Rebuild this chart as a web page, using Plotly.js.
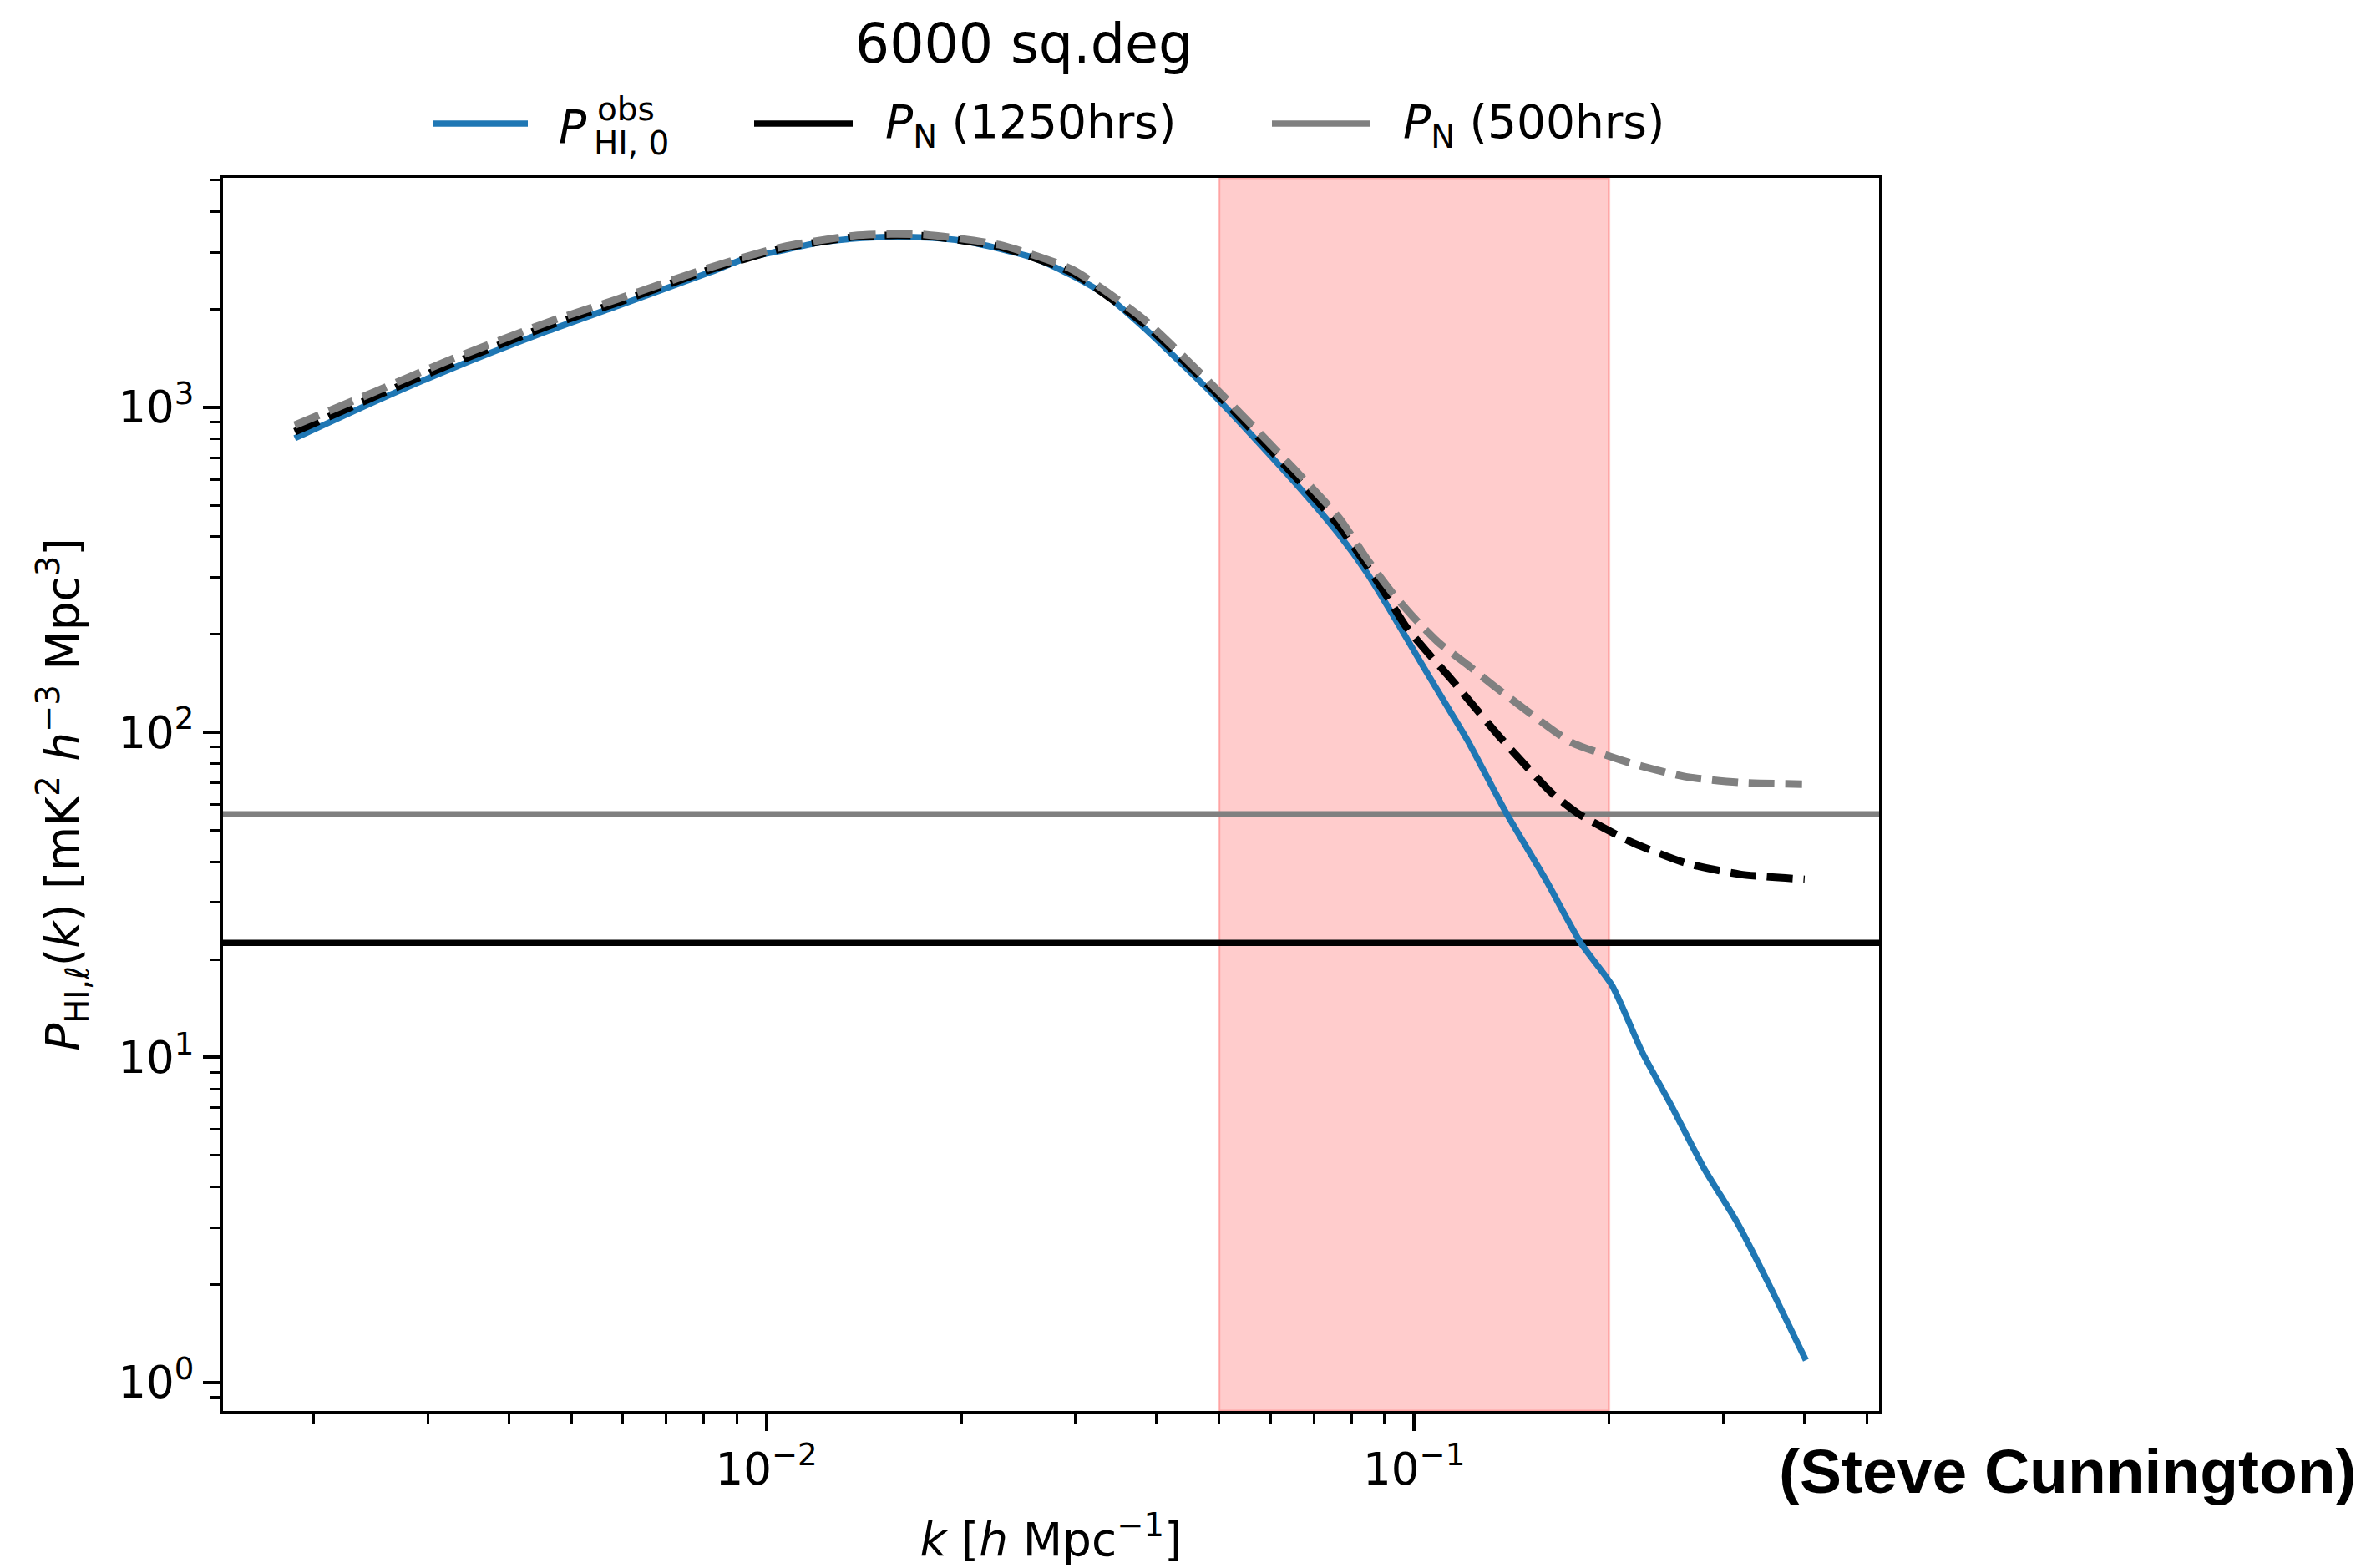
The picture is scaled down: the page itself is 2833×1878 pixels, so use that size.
<!DOCTYPE html>
<html><head><meta charset="utf-8">
<script src="https://cdn.plot.ly/plotly-3.0.1.min.js"></script>
<style>html,body{margin:0;padding:0;background:#fff;}</style>
</head><body><div id="chart" style="width:2833px;height:1878px;"></div>
<script>
// ---- data ----
const kObs = [0.00187,0.0025,0.00319,0.0046,0.00589,0.00817,0.00929,0.0106,0.0120,0.01365,0.01556,0.0177,0.0201,0.0229,0.0260,0.0296,0.0333,0.0383,0.0500,0.0653,0.0766,0.0847,0.0933,0.1030,0.1140,0.1211,0.1387,0.1596,0.1811,0.2023,0.2254,0.2489,0.2805,0.3155,0.3524,0.4027];
const pObs = [803,1047,1291,1718,2051,2600,2871,3041,3206,3304,3342,3327,3251,3076,2871,2547,2223,1754,1050,590,406,308,225,161,115,94,56.6,35.3,22.4,16.6,10.3,7.18,4.55,3.10,2.02,1.17];

const kTot1250 = [0.00187,0.0025,0.00319,0.0046,0.00589,0.00817,0.0106,0.01365,0.01556,0.0177,0.0229,0.0296,0.0383,0.0500,0.0653,0.0766,0.0847,0.0906,0.0971,0.1052,0.1140,0.1230,0.1361,0.1629,0.1786,0.2148,0.2618,0.3184,0.4009];
const pTot1250 = [841,1084,1334,1778,2099,2649,3083,3342,3381,3365,3119,2600,1807,1084,617,431,324,264,212,175,146,122,96,65.3,56.5,46.3,39.7,36.6,35.3];

const kTot500 = [0.00187,0.0025,0.00319,0.0046,0.00589,0.00817,0.0106,0.01365,0.01556,0.0177,0.0229,0.0296,0.0383,0.0500,0.0653,0.0766,0.0847,0.0925,0.1000,0.1094,0.1211,0.1334,0.1489,0.1656,0.1758,0.2148,0.2618,0.3184,0.3972];
const pTot500 = [881,1122,1380,1828,2153,2692,3119,3373,3412,3396,3162,2661,1862,1117,646,457,340,269,225,188,161,138,117,100,92.7,80.7,73.1,70.1,69.3];

const noise1250 = 22.5;
const noise500 = 56;
const kBand = [0.05, 0.2];

const legendLabels = ['obs', 'HI, 0', '<i>P</i><sub>N</sub> (1250hrs)', '<i>P</i><sub>N</sub> (500hrs)'];
const xTickVals = [0.01, 0.1];
const xTickText = ['10<sup>−2</sup>', '10<sup>−1</sup>'];
const yTickVals = [1, 10, 100, 1000];
const yTickText = ['10<sup>0</sup>', '10<sup>1</sup>', '10<sup>2</sup>', '10<sup>3</sup>'];

// ---- geometry ----
const W = 2833, H = 1878, L = 267, R = 2250, T = 213, B = 1690;
const pw = R - L, ph = B - T;
const px = x => (x - L) / pw;
const py = y => (B - y) / ph;

function minorTicks(d0, d1) {
  const out = [];
  for (let d = d0; d <= d1; d++) for (let m = 2; m <= 9; m++) out.push(m * Math.pow(10, d));
  return out;
}

const FONT = 'DejaVu Sans';
const BLUE = '#1f77b4', GRAY = '#808080';

const traces = [
  {x: kObs, y: pObs, type: 'scatter', mode: 'lines', line: {color: BLUE, width: 7.5, shape: 'spline', smoothing: 0.6}, showlegend: false},
  {x: kTot1250, y: pTot1250, type: 'scatter', mode: 'lines', line: {color: 'black', width: 9, dash: '31px,13px', shape: 'spline', smoothing: 0.6}, showlegend: false},
  {x: kTot500, y: pTot500, type: 'scatter', mode: 'lines', line: {color: GRAY, width: 9, dash: '31px,13px', shape: 'spline', smoothing: 0.6}, showlegend: false}
];

const tickBase = {ticks: 'outside', ticklen: 20, tickwidth: 4, tickcolor: 'black', showline: true, mirror: true, linecolor: 'black', linewidth: 4, showgrid: false, zeroline: false, automargin: false, tickfont: {family: FONT, size: 53, color: 'black'}};

const layout = {
  width: W, height: H,
  margin: {l: L, r: W - R, t: T, b: H - B, pad: 0},
  paper_bgcolor: 'white', plot_bgcolor: 'white',
  showlegend: false,
  title: {text: '6000 sq.deg', font: {family: FONT, size: 65, color: 'black'}, xref: 'paper', x: px(1226), xanchor: 'center', yref: 'container', y: 1 - 52 / H, yanchor: 'middle'},
  xaxis: Object.assign({}, tickBase, {
    type: 'log', range: [-2.839, -0.282],
    tickmode: 'array', tickvals: xTickVals, ticktext: xTickText,
    minor: {tickmode: 'array', tickvals: minorTicks(-3, -1), ticks: 'outside', ticklen: 12, tickwidth: 3, tickcolor: 'black', showgrid: false},
    title: {text: '<i>k</i> [<i>h</i> Mpc<sup>−1</sup>]', font: {family: FONT, size: 55, color: 'black'}, standoff: 37}
  }),
  yaxis: Object.assign({}, tickBase, {
    type: 'log', range: [-0.088, 3.706],
    tickmode: 'array', tickvals: yTickVals, ticktext: yTickText,
    minor: {tickmode: 'array', tickvals: minorTicks(-1, 3), ticks: 'outside', ticklen: 12, tickwidth: 3, tickcolor: 'black', showgrid: false},
    title: {text: '<i>P</i><sub>HI,<i>ℓ</i></sub>(<i>k</i>) [mK<sup>2</sup> <i>h</i><sup>−3</sup> Mpc<sup>3</sup>]', font: {family: FONT, size: 55, color: 'black'}, standoff: 30}
  }),
  shapes: [
    {type: 'rect', xref: 'x', yref: 'paper', x0: kBand[0], x1: kBand[1], y0: 0, y1: 1, fillcolor: 'rgba(255,0,0,0.2)', line: {color: 'rgba(255,0,0,0.2)', width: 3}, layer: 'below'},
    {type: 'line', xref: 'paper', yref: 'y', x0: 0, x1: 1, y0: noise1250, y1: noise1250, line: {color: 'black', width: 7.5}, layer: 'below'},
    {type: 'line', xref: 'paper', yref: 'y', x0: 0, x1: 1, y0: noise500, y1: noise500, line: {color: GRAY, width: 7.5}, layer: 'below'},
    // legend samples
    {type: 'line', xref: 'paper', yref: 'paper', x0: px(519), x1: px(632), y0: py(148), y1: py(148), line: {color: BLUE, width: 7.5}},
    {type: 'line', xref: 'paper', yref: 'paper', x0: px(903), x1: px(1021), y0: py(148), y1: py(148), line: {color: 'black', width: 7.5}},
    {type: 'line', xref: 'paper', yref: 'paper', x0: px(1523), x1: px(1641), y0: py(148), y1: py(148), line: {color: GRAY, width: 7.5}}
  ],
  annotations: [
    {text: '<i>P</i>', xref: 'paper', yref: 'paper', x: px(668), y: py(152), xanchor: 'left', yanchor: 'middle', showarrow: false, borderpad: 0, font: {family: FONT, size: 55, color: 'black'}},
    {text: legendLabels[0], xref: 'paper', yref: 'paper', x: px(714), y: py(130), xanchor: 'left', yanchor: 'middle', showarrow: false, borderpad: 0, font: {family: FONT, size: 39, color: 'black'}},
    {text: legendLabels[1], xref: 'paper', yref: 'paper', x: px(710), y: py(172), xanchor: 'left', yanchor: 'middle', showarrow: false, borderpad: 0, font: {family: FONT, size: 39, color: 'black'}},
    {text: legendLabels[2], xref: 'paper', yref: 'paper', x: px(1058), y: py(150), xanchor: 'left', yanchor: 'middle', showarrow: false, font: {family: FONT, size: 55, color: 'black'}},
    {text: legendLabels[3], xref: 'paper', yref: 'paper', x: px(1678), y: py(150), xanchor: 'left', yanchor: 'middle', showarrow: false, font: {family: FONT, size: 55, color: 'black'}},
    {text: '<b>(Steve Cunnington)</b>', xref: 'paper', yref: 'paper', x: px(2824), y: py(1762), xanchor: 'right', yanchor: 'middle', showarrow: false, font: {family: 'Liberation Sans', size: 75, color: 'black'}}
  ]
};

Plotly.newPlot('chart', traces, layout, {staticPlot: true, displayModeBar: false});
</script></body></html>
